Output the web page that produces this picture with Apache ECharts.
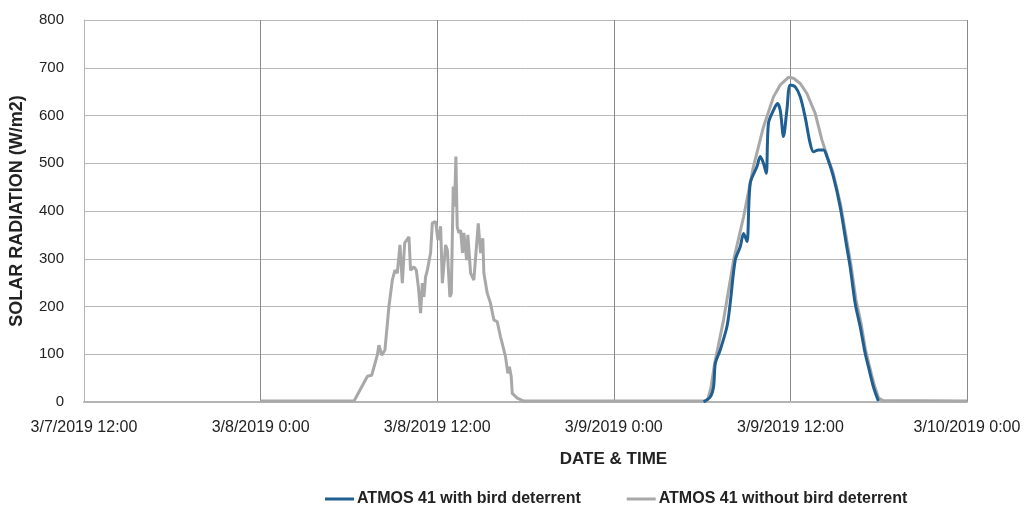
<!DOCTYPE html>
<html>
<head>
<meta charset="utf-8">
<script src="https://cdn.jsdelivr.net/npm/echarts@6/dist/echarts.min.js"></script>
<style>
html,body{margin:0;padding:0;background:#fff;}
#chart{width:1031px;height:506px;}
</style>
</head>
<body>
<div id="chart"></div>
<script>
// hours counted from 3/7/2019 12:00
var tickLabels = ['3/7/2019 12:00','3/8/2019 0:00','3/8/2019 12:00','3/9/2019 0:00','3/9/2019 12:00','3/10/2019 0:00'];

var withoutHours = [12,18.35,19.26,19.55,19.93,20.04,20.23,20.45,20.72,20.95,21.13,21.29,21.47,21.63,21.79,22.08,22.19,22.42,22.58,22.72,22.87,22.99,23.1,23.21,23.33,23.55,23.67,23.89,24.05,24.23,24.35,24.57,24.69,24.86,24.96,25.09,25.18,25.27,25.36,25.47,25.59,25.72,25.81,26,26.08,26.27,26.49,26.79,26.95,27.1,27.17,27.4,27.62,27.85,28.08,28.3,28.53,28.64,28.8,28.91,29.03,29.1,29.44,29.88,
    42.35,42.6,42.85,43.46,44.14,44.82,45.49,46.17,46.85,47.31,47.87,48.21,48.67,49.12,49.68,50.14,50.5,50.9,51.4,51.85,52.1,52.45,52.8,53.1,53.35,53.7,54,54.3,60];
var withoutVals = [2,2,54,56,98,119,98,109,200,255,276,270,329,249,333,346,276,283,276,241,186,249,220,262,276,312,375,378,339,368,249,329,318,220,228,451,409,514,367,354,360,312,354,297,350,270,255,374,312,343,270,228,207,172,168,137,109,95,60,74,53,18,8,2,
    2,30,80,172,297,388,493,576,639,664,680,678,667,646,605,549,515,480,415,335,290,215,165,110,78,35,8,3,2];

var withHours = [42.1,42.56,42.78,42.9,43.23,43.69,43.91,44.25,44.59,44.82,45.05,45.27,45.73,45.95,46.17,46.36,46.51,46.85,47.12,47.31,47.53,47.76,47.99,48.33,48.67,49,49.34,49.57,49.91,50.25,50.48,50.92,51.38,51.83,52.06,52.4,52.74,53.08,53.3,53.64,53.98];
var withVals = [0,11,32,81,109,158,207,297,325,353,336,458,493,514,500,479,584,611,625,611,556,611,664,660,639,597,542,524,528,528,514,472,409,325,283,207,158,102,74,32,2];

function pairs(xs, ys) {
    var out = [];
    for (var i = 0; i < xs.length; i++) out.push([xs[i], ys[i]]);
    return out;
}

var myChart = echarts.init(document.getElementById('chart'));
var font = 'Liberation Sans';
option = {
    animation: false,
    grid: {left: 83, right: 64, top: 20, bottom: 104},
    legend: {
        top: 486,
        left: 320,
        data: ['ATMOS 41 with bird deterrent', 'ATMOS 41 without bird deterrent'],
        icon: 'rect',
        itemWidth: 29,
        itemHeight: 3,
        itemGap: 46,
        textStyle: {fontFamily: font, fontSize: 16, fontWeight: 'bold', color: '#222', padding: [0, 0, 0, -2]}
    },
    xAxis: {
        type: 'value',
        min: 0,
        max: 60,
        interval: 12,
        name: 'DATE & TIME',
        nameLocation: 'middle',
        nameGap: 49,
        nameTextStyle: {fontFamily: font, fontSize: 17, fontWeight: 'bold', color: '#222', padding: [0, 0, 0, 176]},
        axisLine: {lineStyle: {color: '#b3b3b3', width: 2}},
        axisTick: {show: false},
        axisLabel: {
            fontFamily: font, fontSize: 16, color: '#222', margin: 18,
            formatter: function (v) { return tickLabels[Math.round(v / 12)]; }
        },
        splitLine: {show: true, lineStyle: {color: '#8a8a8a', width: 1}}
    },
    yAxis: {
        type: 'value',
        min: 0,
        max: 800,
        interval: 100,
        name: 'SOLAR RADIATION (W/m2)',
        nameLocation: 'middle',
        nameGap: 58,
        nameTextStyle: {fontFamily: font, fontSize: 18, fontWeight: 'bold', color: '#222'},
        axisLine: {show: true, lineStyle: {color: '#b3b3b3', width: 1}},
        axisTick: {show: false},
        axisLabel: {fontFamily: font, fontSize: 15, color: '#222', margin: 20},
        splitLine: {lineStyle: {color: '#b8b8b8', width: 1}}
    },
    series: [
        {
            name: 'ATMOS 41 without bird deterrent',
            type: 'line',
            data: pairs(withoutHours, withoutVals),
            showSymbol: false,
            symbol: 'none',
            lineStyle: {color: '#a8a8a8', width: 3},
            itemStyle: {color: '#a8a8a8'},
            z: 2
        },
        {
            name: 'ATMOS 41 with bird deterrent',
            type: 'line',
            data: pairs(withHours, withVals),
            showSymbol: false,
            symbol: 'none',
            smooth: 0.3,
            lineStyle: {color: '#1f5f92', width: 3},
            itemStyle: {color: '#1f5f92'},
            z: 3
        }
    ]
};
myChart.setOption(option, true);
</script>
</body>
</html>
